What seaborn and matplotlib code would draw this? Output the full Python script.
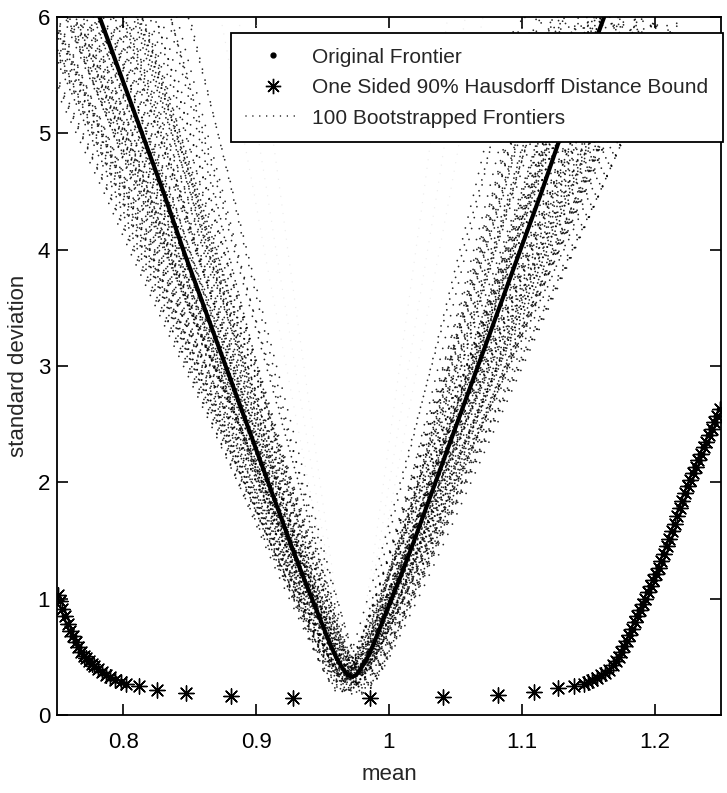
import numpy as np
import pandas as pd
import matplotlib
matplotlib.use("Agg")
import matplotlib.pyplot as plt
import seaborn as sns
from matplotlib.lines import Line2D

# ---------------- data ----------------
# Original frontier (top-left -> vertex -> top-right)
orig_std = [6.0, 5.5, 5.0, 4.5, 4.0, 3.5, 3.0, 2.5, 2.0, 1.5, 1.2, 1.0, 0.8, 0.6, 0.5, 0.42, 0.37, 0.34, 0.33,
            0.34, 0.37, 0.42, 0.5, 0.6, 0.8, 1.0, 1.2, 1.5, 2.0, 2.5, 3.0, 3.5, 4.0, 4.5, 5.0, 5.5, 6.0]
orig_mean = [0.782, 0.798, 0.814, 0.830, 0.845, 0.861, 0.877, 0.893, 0.909, 0.925, 0.935, 0.942, 0.949, 0.956,
             0.960, 0.964, 0.967, 0.969, 0.972,
             0.975, 0.977, 0.980, 0.984, 0.988, 0.995, 1.002, 1.009, 1.019, 1.035, 1.051, 1.067, 1.083, 1.099,
             1.115, 1.130, 1.146, 1.162]
vertex_mean = 0.972

# One sided 90% Hausdorff distance bound (asterisks)
haus_mean = [0.751, 0.752, 0.754, 0.756, 0.758, 0.760, 0.762, 0.764, 0.766, 0.768, 0.770, 0.772, 0.774, 0.776,
             0.778, 0.781, 0.784, 0.787, 0.790, 0.794, 0.798, 0.802, 0.812, 0.825, 0.8475, 0.881, 0.928, 0.986,
             1.0405, 1.082, 1.109, 1.127, 1.139, 1.147, 1.150, 1.153, 1.157, 1.160, 1.163, 1.166, 1.169, 1.171,
             1.173, 1.175, 1.177, 1.179, 1.181, 1.183, 1.185, 1.187, 1.189, 1.191, 1.193, 1.195, 1.197, 1.199,
             1.201, 1.203, 1.205, 1.207, 1.209, 1.211, 1.213, 1.215, 1.217, 1.219, 1.221, 1.223, 1.225, 1.227,
             1.229, 1.231, 1.233, 1.235, 1.237, 1.239, 1.241, 1.243, 1.245, 1.247, 1.249]
haus_std = [1.03, 0.98, 0.91, 0.85, 0.78, 0.725, 0.68, 0.63, 0.585, 0.54, 0.51, 0.49, 0.465, 0.44,
            0.42, 0.395, 0.37, 0.345, 0.325, 0.305, 0.285, 0.27, 0.25, 0.215, 0.19, 0.163, 0.143, 0.143,
            0.157, 0.172, 0.20, 0.23, 0.25, 0.27, 0.285, 0.30, 0.32, 0.34, 0.365, 0.39, 0.43, 0.46,
            0.50, 0.54, 0.59, 0.64, 0.69, 0.74, 0.80, 0.85, 0.90, 0.95, 1.00, 1.06, 1.11, 1.16,
            1.21, 1.265, 1.32, 1.38, 1.45, 1.51, 1.58, 1.64, 1.71, 1.78, 1.84, 1.91, 1.97, 2.02,
            2.08, 2.13, 2.19, 2.24, 2.30, 2.35, 2.41, 2.46, 2.52, 2.57, 2.63]

# 100 bootstrapped frontiers: width factor, mean shift and std shift of each one (estimated from the band)
boot_width = [0.66, 0.68, 0.70, 0.71, 0.72, 0.74, 0.75, 0.76, 0.77, 0.78,
              0.79, 0.80, 0.80, 0.81, 0.82, 0.83, 0.83, 0.84, 0.85, 0.85,
              0.86, 0.86, 0.87, 0.88, 0.88, 0.89, 0.89, 0.90, 0.90, 0.91,
              0.91, 0.92, 0.92, 0.93, 0.93, 0.94, 0.94, 0.95, 0.95, 0.96,
              0.96, 0.97, 0.97, 0.98, 0.98, 0.99, 0.99, 1.00, 1.00, 1.01,
              1.01, 1.02, 1.02, 1.03, 1.03, 1.04, 1.04, 1.05, 1.05, 1.06,
              1.06, 1.07, 1.07, 1.08, 1.08, 1.09, 1.09, 1.10, 1.10, 1.11,
              1.11, 1.12, 1.12, 1.13, 1.13, 1.14, 1.14, 1.15, 1.15, 1.16,
              1.16, 1.17, 1.17, 1.18, 1.18, 1.19, 1.19, 1.20, 1.20, 1.21,
              1.21, 1.22, 1.22, 1.23, 1.24, 1.25, 1.26, 1.27, 1.28, 1.30]
boot_dmean = [0.003, -0.006, 0.008, -0.001, 0.005, -0.009, 0.001, 0.007, -0.004, 0.010,
              -0.007, 0.002, -0.003, 0.006, -0.010, 0.004, 0.000, -0.005, 0.009, -0.002,
              0.005, -0.008, 0.001, 0.007, -0.005, 0.003, -0.010, 0.009, -0.001, 0.005,
              -0.007, 0.003, 0.011, -0.003, 0.001, -0.009, 0.006, -0.001, 0.008, -0.006,
              0.002, -0.004, 0.007, -0.011, 0.004, 0.000, -0.007, 0.009, -0.003, 0.005,
              -0.001, 0.010, -0.005, 0.001, -0.009, 0.007, 0.003, -0.002, 0.006, -0.008,
              0.005, -0.004, 0.001, 0.009, -0.007, 0.003, -0.010, 0.008, -0.001, 0.004,
              -0.006, 0.007, 0.002, -0.009, 0.005, -0.003, 0.011, -0.001, 0.003, -0.007,
              0.009, -0.005, 0.001, 0.006, -0.010, 0.003, -0.002, 0.007, -0.005, 0.004,
              0.000, -0.008, 0.009, -0.003, 0.005, -0.007, 0.002, 0.008, -0.004, 0.001]
boot_dstd = [0.02, -0.05, 0.08, -0.12, 0.00, 0.05, -0.09, 0.03, -0.15, 0.07,
             -0.03, 0.10, -0.07, 0.01, -0.11, 0.06, -0.02, 0.09, -0.14, 0.04,
             -0.06, 0.02, -0.10, 0.08, -0.01, 0.05, -0.13, 0.03, -0.08, 0.10,
             0.00, -0.04, 0.07, -0.16, 0.02, -0.07, 0.09, -0.02, 0.04, -0.12,
             0.06, -0.05, 0.01, -0.09, 0.08, -0.03, 0.03, -0.14, 0.05, -0.01,
             0.10, -0.08, 0.02, -0.11, 0.07, -0.04, 0.00, -0.06, 0.09, -0.13,
             0.04, -0.02, 0.06, -0.10, 0.01, -0.07, 0.08, -0.15, 0.03, -0.05,
             0.05, -0.09, 0.02, -0.03, 0.10, -0.12, 0.00, -0.06, 0.07, -0.01,
             -0.08, 0.04, -0.14, 0.06, -0.04, 0.01, -0.11, 0.09, -0.02, 0.03,
             -0.07, 0.08, -0.10, 0.05, -0.05, 0.02, -0.13, 0.06, -0.03, 0.00]
# faint inner (light grey) dots
faint_width = [0.38, 0.45, 0.52]

xticks = [0.8, 0.9, 1.0, 1.1, 1.2]
xtick_labels = ["0.8", "0.9", "1", "1.1", "1.2"]
yticks = [0, 1, 2, 3, 4, 5, 6]
labels = ["Original Frontier", "One Sided 90% Hausdorff Distance Bound", "100 Bootstrapped Frontiers"]

# ---------------- build tables ----------------
om = np.array(orig_mean)
os_ = np.array(orig_std)
rows = []
for k, (w, dm, ds) in enumerate(zip(boot_width, boot_dmean, boot_dstd)):
    for m, s in zip(om, os_):
        rows.append((k, vertex_mean + (m - vertex_mean) * w + dm, s + ds))
boot = pd.DataFrame(rows, columns=["frontier", "mean", "std"])
rows = []
for k, w in enumerate(faint_width):
    for m, s in zip(om, os_):
        rows.append((k, vertex_mean + (m - vertex_mean) * w, s))
faint = pd.DataFrame(rows, columns=["frontier", "mean", "std"])
orig = pd.DataFrame({"mean": orig_mean, "std": orig_std})
haus = pd.DataFrame({"mean": haus_mean, "std": haus_std})

# ---------------- plot ----------------
sns.set_theme(style="white")
plt.rcParams["font.family"] = ["Liberation Sans", "DejaVu Sans"]

fig = plt.figure(figsize=(7.27, 7.93), dpi=100)
ax = fig.add_axes([57 / 727, 1 - 715 / 793, (721 - 57) / 727, (715 - 17) / 793])

dot_style = dict(linestyle=(0, (0.01, 6.2)), dash_capstyle="round")
sns.lineplot(data=faint, x="mean", y="std", units="frontier", estimator=None, sort=False,
             color="#ececec", lw=1.0, ax=ax, legend=False, **dot_style)
sns.lineplot(data=boot, x="mean", y="std", units="frontier", estimator=None, sort=False,
             color="black", lw=1.3, alpha=0.85, ax=ax, legend=False, **dot_style)
sns.lineplot(data=orig, x="mean", y="std", sort=False, color="black", lw=3.0, ax=ax, legend=False)
sns.scatterplot(data=haus, x="mean", y="std", marker=(8, 2, 0), s=120, color="black",
                edgecolor="black", linewidth=1.0, ax=ax, legend=False, zorder=5)

ax.set_xlim(0.75, 1.25)
ax.set_ylim(0, 6)
ax.set_xticks(xticks)
ax.set_xticklabels(xtick_labels)
ax.set_yticks(yticks)
ax.set_xlabel("mean", fontsize=16, labelpad=8)
ax.set_ylabel("standard deviation", fontsize=16, labelpad=6)
ax.tick_params(direction="in", length=8, width=1.2, top=True, right=True, bottom=True, left=True,
               labelsize=16, colors="black")
ax.tick_params(axis="x", pad=12)
ax.tick_params(axis="y", pad=5)
for sp in ax.spines.values():
    sp.set_color("black")
    sp.set_linewidth(1.3)

handles = [
    Line2D([], [], marker=".", color="black", linestyle="", markersize=7),
    Line2D([], [], marker=(8, 2, 0), color="black", linestyle="", markersize=11, markeredgewidth=1.0),
    Line2D([], [], color="black", lw=1.1, linestyle=(0, (0.01, 4.5)), dash_capstyle="round"),
]
leg = ax.legend(handles, labels, loc="upper right", bbox_to_anchor=(1.003, 0.977), frameon=True,
                fancybox=False, edgecolor="black", framealpha=1, fontsize=15, handlelength=2.6,
                borderpad=0.7, labelspacing=0.55, handletextpad=0.6, borderaxespad=0)
leg.get_frame().set_linewidth(1.3)

fig.savefig("out.png", dpi=100)
